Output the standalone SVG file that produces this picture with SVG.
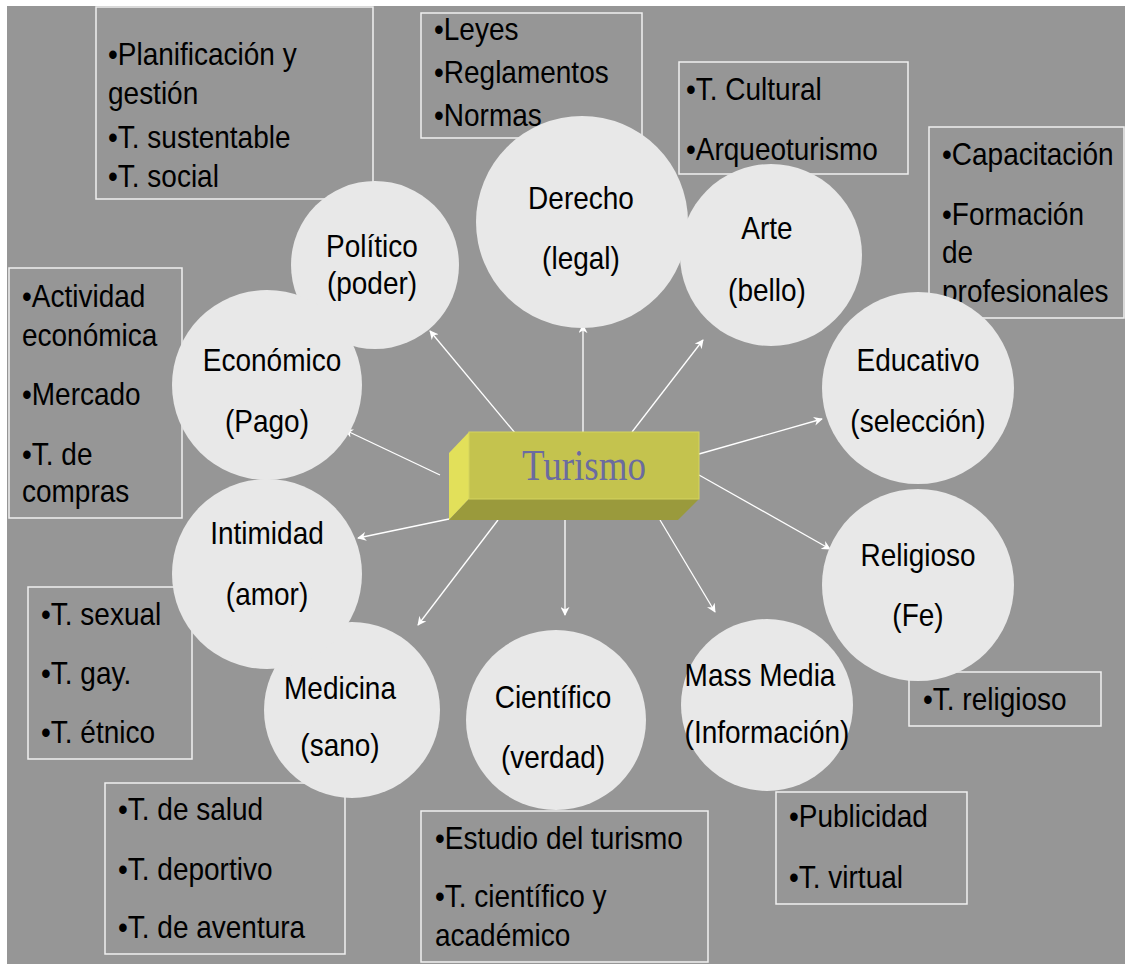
<svg xmlns="http://www.w3.org/2000/svg" width="1125" height="964" viewBox="0 0 1125 964">
<defs>
<style>
.bg{fill:#969696}
.box{fill:none;stroke:#f0f0f0;stroke-width:1.5}
.c{fill:#e8e8e8}
.t{font-family:"Liberation Sans",Arial,sans-serif;font-size:28px;fill:#000}
.m{text-anchor:middle}
.ln{stroke:#ffffff;stroke-width:1.3;fill:none;marker-end:url(#ah)}
</style>
<marker id="ah" viewBox="0 0 10 10" refX="9" refY="5" markerWidth="9" markerHeight="9" markerUnits="userSpaceOnUse" orient="auto">
<path d="M0,0 L10,5 L0,10 L3,5 Z" fill="#ffffff"/>
</marker>
</defs>
<rect width="1125" height="964" fill="#ffffff"/>
<rect class="bg" x="7" y="6" width="1118" height="958"/>

<g id="box-politico">
<rect class="box" x="96" y="7" width="277" height="192"/>
<text class="t" transform="translate(108,65) scale(1,1.15)">•Planificación y</text>
<text class="t" transform="translate(108,104) scale(1,1.15)">gestión</text>
<text class="t" transform="translate(108,148) scale(1,1.15)">•T. sustentable</text>
<text class="t" transform="translate(108,187) scale(1,1.15)">•T. social</text>
</g>
<g id="box-derecho">
<rect class="box" x="421" y="13" width="221" height="125"/>
<text class="t" transform="translate(434,40) scale(1,1.15)">•Leyes</text>
<text class="t" transform="translate(434,83) scale(1,1.15)">•Reglamentos</text>
<text class="t" transform="translate(434,126) scale(1,1.15)">•Normas</text>
</g>
<g id="box-arte">
<rect class="box" x="679" y="62" width="229" height="112"/>
<text class="t" transform="translate(686,100) scale(1,1.15)">•T. Cultural</text>
<text class="t" transform="translate(686,160) scale(1,1.15)">•Arqueoturismo</text>
</g>
<g id="box-educativo">
<rect class="box" x="929" y="127" width="195" height="191"/>
<text class="t" transform="translate(942,165) scale(1,1.15)">•Capacitación</text>
<text class="t" transform="translate(942,225) scale(1,1.15)">•Formación</text>
<text class="t" transform="translate(942,263) scale(1,1.15)">de</text>
<text class="t" transform="translate(942,302) scale(1,1.15)">profesionales</text>
</g>
<g id="box-economico">
<rect class="box" x="9" y="268" width="173" height="250"/>
<text class="t" transform="translate(22,307) scale(1,1.15)">•Actividad</text>
<text class="t" transform="translate(22,346) scale(1,1.15)">económica</text>
<text class="t" transform="translate(22,405) scale(1,1.15)">•Mercado</text>
<text class="t" transform="translate(22,465) scale(1,1.15)">•T. de</text>
<text class="t" transform="translate(22,502) scale(1,1.15)">compras</text>
</g>
<g id="box-intimidad">
<rect class="box" x="28" y="587" width="164" height="172"/>
<text class="t" transform="translate(41,625) scale(1,1.15)">•T. sexual</text>
<text class="t" transform="translate(41,684) scale(1,1.15)">•T. gay.</text>
<text class="t" transform="translate(41,743) scale(1,1.15)">•T. étnico</text>
</g>
<g id="box-medicina">
<rect class="box" x="105" y="783" width="240" height="171"/>
<text class="t" transform="translate(118,820) scale(1,1.15)">•T. de salud</text>
<text class="t" transform="translate(118,880) scale(1,1.15)">•T. deportivo</text>
<text class="t" transform="translate(118,938) scale(1,1.15)">•T. de aventura</text>
</g>
<g id="box-cientifico">
<rect class="box" x="421" y="811" width="287" height="151"/>
<text class="t" transform="translate(435,849) scale(1,1.15)">•Estudio del turismo</text>
<text class="t" transform="translate(435,907) scale(1,1.15)">•T. científico y</text>
<text class="t" transform="translate(435,946) scale(1,1.15)">académico</text>
</g>
<g id="box-massmedia">
<rect class="box" x="776" y="792" width="191" height="112"/>
<text class="t" transform="translate(789,827) scale(1,1.15)">•Publicidad</text>
<text class="t" transform="translate(789,888) scale(1,1.15)">•T. virtual</text>
</g>
<g id="box-religioso">
<rect class="box" x="909" y="672" width="192" height="54"/>
<text class="t" transform="translate(923,710) scale(1,1.15)">•T. religioso</text>
</g>

<g id="connectors">
<line class="ln" x1="535" y1="457" x2="430" y2="331"/>
<line class="ln" x1="583" y1="432" x2="583" y2="325"/>
<line class="ln" x1="632" y1="432" x2="703" y2="340"/>
<line class="ln" x1="699" y1="454" x2="822" y2="419"/>
<line class="ln" x1="699" y1="475" x2="830" y2="549"/>
<line class="ln" x1="660" y1="520" x2="715" y2="612"/>
<line class="ln" x1="565" y1="520" x2="565" y2="615"/>
<line class="ln" x1="498" y1="520" x2="418" y2="625"/>
<line class="ln" x1="449" y1="519" x2="358" y2="538"/>
<line class="ln" x1="440" y1="475" x2="345" y2="430"/>
</g>

<g id="politico">
<circle class="c" cx="375" cy="265" r="84"/>
<text class="t m" transform="translate(372,257) scale(1,1.15)">Político</text>
<text class="t m" transform="translate(372,294) scale(1,1.15)">(poder)</text>
</g>
<g id="derecho">
<circle class="c" cx="582" cy="222" r="106"/>
<text class="t m" transform="translate(581,209) scale(1,1.15)">Derecho</text>
<text class="t m" transform="translate(581,269) scale(1,1.15)">(legal)</text>
</g>
<g id="arte">
<circle class="c" cx="771" cy="255" r="91"/>
<text class="t m" transform="translate(767,239) scale(1,1.15)">Arte</text>
<text class="t m" transform="translate(767,301) scale(1,1.15)">(bello)</text>
</g>
<g id="educativo">
<circle class="c" cx="918" cy="388" r="96"/>
<text class="t m" transform="translate(918,371) scale(1,1.15)">Educativo</text>
<text class="t m" transform="translate(918,432) scale(1,1.15)">(selección)</text>
</g>
<g id="religioso">
<circle class="c" cx="918" cy="585" r="96"/>
<text class="t m" transform="translate(918,566) scale(1,1.15)">Religioso</text>
<text class="t m" transform="translate(918,626) scale(1,1.15)">(Fe)</text>
</g>
<g id="massmedia">
<circle class="c" cx="767" cy="705" r="86"/>
<text class="t m" transform="translate(760,686) scale(1,1.15)">Mass Media</text>
<text class="t m" transform="translate(767,743) scale(1,1.15)">(Información)</text>
</g>
<g id="cientifico">
<circle class="c" cx="556" cy="720" r="90"/>
<text class="t m" transform="translate(553,708) scale(1,1.15)">Científico</text>
<text class="t m" transform="translate(553,768) scale(1,1.15)">(verdad)</text>
</g>
<g id="medicina">
<circle class="c" cx="352" cy="710" r="88"/>
<text class="t m" transform="translate(340,699) scale(1,1.15)">Medicina</text>
<text class="t m" transform="translate(340,756) scale(1,1.15)">(sano)</text>
</g>
<g id="intimidad">
<circle class="c" cx="267" cy="574" r="95"/>
<text class="t m" transform="translate(267,544) scale(1,1.15)">Intimidad</text>
<text class="t m" transform="translate(267,605) scale(1,1.15)">(amor)</text>
</g>
<g id="economico">
<circle class="c" cx="267" cy="385" r="95"/>
<text class="t m" transform="translate(272,371) scale(1,1.15)">Económico</text>
<text class="t m" transform="translate(267,432) scale(1,1.15)">(Pago)</text>
</g>

<g id="turismo">
<polygon points="469,432 449,453 449,520 469,499" fill="#e2e05a"/>
<polygon points="469,499 699,499 678,520 449,520" fill="#9a9a3c"/>
<rect x="469" y="432" width="230" height="67" fill="#c4c34e" stroke="#d4d35e" stroke-width="1"/>
<text transform="translate(584,480) scale(1,1.2)" text-anchor="middle" font-family="'Liberation Serif','Times New Roman',serif" font-size="37" fill="#6b6ba0">Turismo</text>
</g>
</svg>
